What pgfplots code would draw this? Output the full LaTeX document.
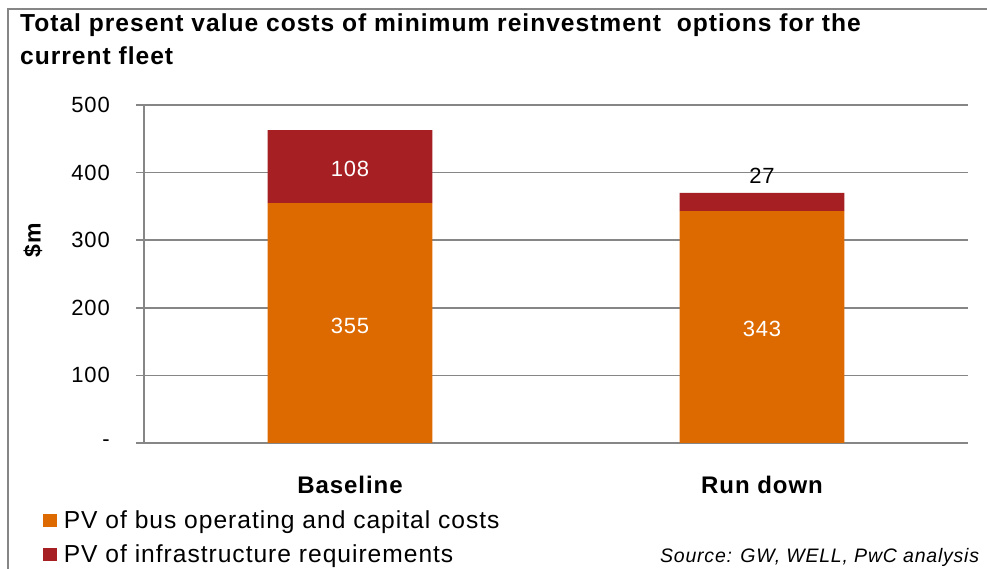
\documentclass[border=0pt]{standalone}
\usepackage{fontspec}
\setmainfont{Liberation Sans}[LetterSpace=4]
\usepackage{pgfplots}
\pgfplotsset{compat=1.18}
\definecolor{busorange}{RGB}{221,106,0}
\definecolor{infrared}{RGB}{165,31,35}
\definecolor{gridgray}{RGB}{134,134,134}
\begin{document}
\begin{tikzpicture}[x=1pt,y=1pt]
\path[use as bounding box] (0,0) rectangle (987,569);
% outer frame (only left and top edges are inside the picture)
\draw[gridgray, line width=1.5pt] (8,-20) -- (8,560) -- (1010,560);
\node[anchor=base west, inner sep=0pt, font=\bfseries\fontsize{24.6}{28}\selectfont]
  at (20,537) {Total present value costs of minimum reinvestment\ \ options for the};
\node[anchor=base west, inner sep=0pt, font=\bfseries\fontsize{24.6}{28}\selectfont]
  at (20,504) {current fleet};
\begin{axis}[
    at={(144pt,126pt)}, anchor=south west,
    scale only axis, width=824pt, height=338pt,
    ybar stacked, bar width=0.4,
    xmin=-0.5, xmax=1.5, ymin=0, ymax=500,
    xtick={0,1}, xticklabels={Baseline,Run down},
    ytick={0,100,...,500},
    yticklabels={{-\hspace{5pt}},100,200,300,400,500},
    axis lines=left,
    axis line style={gridgray, line width=1.5pt, -},
    ymajorgrids,
    grid style={gridgray, line width=1.5pt},
    tick align=outside, major tick length=8pt,
    ytick style={gridgray, line width=1.5pt},
    xtick style={draw=none},
    yticklabel style={font=\fontsize{22}{26}\selectfont, anchor=east, inner sep=0pt, xshift=-26pt},
    xticklabel style={font=\bfseries\fontsize{24}{28}\selectfont, anchor=north, inner sep=0pt, yshift=-25pt},
    legend style={at={(axis description cs:-0.123,-0.195)}, anchor=north west,
        draw=none, fill=none, font=\fontsize{24.6}{28}\selectfont,
        legend cell align=left, row sep=10pt, inner sep=0pt},
]
\addplot[fill=busorange, draw=none,
  legend image code/.code={\fill[busorange] (0pt,-6.5pt) rectangle (14pt,6.5pt); \path (19pt,0pt);}]
  coordinates {(0,355) (1,343)};
\addplot[fill=infrared, draw=none,
  legend image code/.code={\fill[infrared] (0pt,-6.5pt) rectangle (14pt,6.5pt); \path (19pt,0pt);}]
  coordinates {(0,108) (1,27)};
\legend{PV of bus operating and capital costs, PV of infrastructure requirements}

% label positions, typeset after the bars are drawn
\coordinate (lA) at (axis cs:0,173);
\coordinate (lB) at (axis cs:0,405);
\coordinate (lC) at (axis cs:1,168);
\coordinate (lD) at (axis cs:1,395);
\end{axis}
\node[white, font=\fontsize{22}{26}\selectfont] at (lA) {355};
\node[white, font=\fontsize{22}{26}\selectfont] at (lB) {108};
\node[white, font=\fontsize{22}{26}\selectfont] at (lC) {343};
\node[black, font=\fontsize{22}{26}\selectfont] at (lD) {27};
\node[rotate=90, font=\bfseries\fontsize{23}{27}\selectfont] at (33,329) {\$m};
\node[anchor=base west, inner sep=0pt, font=\itshape\fontsize{19.5}{24}\selectfont]
  at (660,6) {Source: GW, WELL, PwC analysis};
\end{tikzpicture}
\end{document}
